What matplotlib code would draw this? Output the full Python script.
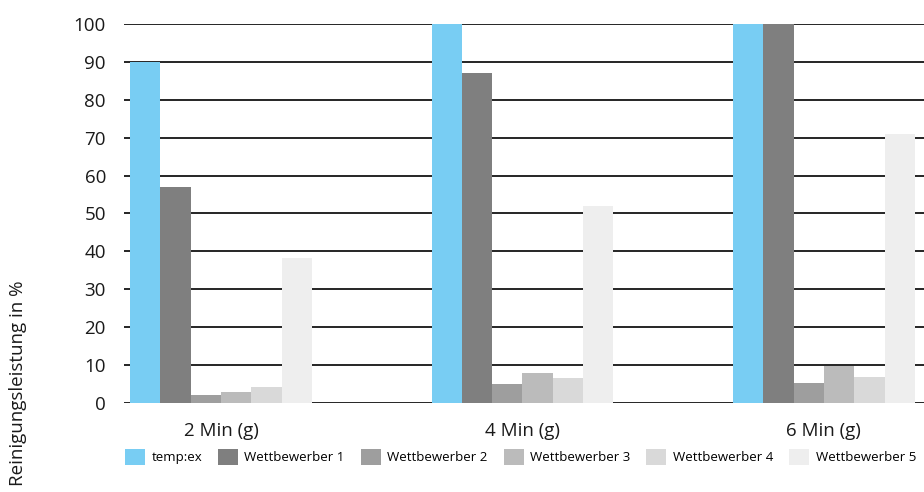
import numpy as np
import matplotlib.pyplot as plt

categories = ["2 Min (g)", "4 Min (g)", "6 Min (g)"]
series_names = ["temp:ex", "Wettbewerber 1", "Wettbewerber 2",
                "Wettbewerber 3", "Wettbewerber 4", "Wettbewerber 5"]
temp_ex = [90, 100, 100]
wettbewerber_1 = [57, 87, 100]
wettbewerber_2 = [2.2, 4.9, 5.2]
wettbewerber_3 = [2.8, 7.8, 9.8]
wettbewerber_4 = [4.1, 6.7, 6.8]
wettbewerber_5 = [38.3, 52, 71]
colors = ["#78CDF3", "#7F7F7F", "#9E9E9E", "#BBBBBB", "#D9D9D9", "#EEEEEE"]

values = [temp_ex, wettbewerber_1, wettbewerber_2,
          wettbewerber_3, wettbewerber_4, wettbewerber_5]

fig = plt.figure(figsize=(9.24, 4.92), dpi=100)
ax = fig.add_axes([124 / 924, 89 / 492, 800 / 924, 379 / 492])

x = np.arange(len(categories))
width = 0.1005
for i, (name, vals) in enumerate(zip(series_names, values)):
    offset = (i - 2.5) * width
    ax.bar(x + offset, vals, width, color=colors[i], label=name, zorder=3)

ax.set_ylim(0, 100)
ax.set_xlim(-0.322, 2.332)
ax.set_yticks(range(0, 101, 10))
ax.yaxis.grid(True, color="black", linewidth=1.2, zorder=1)
ax.set_axisbelow(True)
for s in ax.spines.values():
    s.set_visible(False)
ax.tick_params(axis="y", length=0, pad=13, labelsize=13.5)
ax.tick_params(axis="x", length=0, pad=14, labelsize=13.5)
ax.set_xticks(x)
ax.set_xticklabels(categories)
for lbl in ax.get_yticklabels() + ax.get_xticklabels():
    lbl.set_fontfamily("Open Sans")
    lbl.set_color("#1a1a1a")

# y label sits low on the left, not centred on the axes
fig.text(0.020, 1 - 383 / 492, "Reinigungsleistung in %", rotation=90,
         ha="center", va="center", fontsize=13.5, family="Open Sans", color="#1a1a1a")

fig.legend(loc="center left", bbox_to_anchor=(125 / 924, 35 / 492), ncol=6,
           frameon=False, handlelength=1.5, handleheight=1.5,
           handletextpad=0.5, columnspacing=1.22, borderaxespad=0, borderpad=0,
           prop={"family": "Open Sans", "size": 9.5})

fig.savefig("out.png", dpi=100)
